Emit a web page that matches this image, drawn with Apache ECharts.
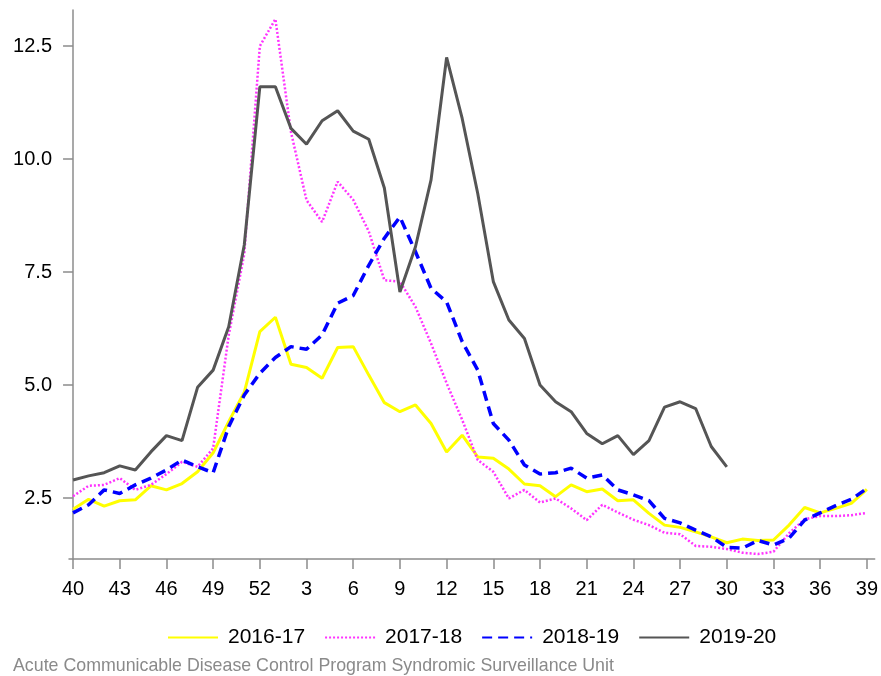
<!DOCTYPE html>
<html>
<head>
<meta charset="utf-8">
<script src="https://cdn.jsdelivr.net/npm/echarts@6/dist/echarts.min.js"></script>
<style>
  html, body { margin: 0; padding: 0; background: #fff; }
  #main { width: 881px; height: 676px; }
</style>
</head>
<body>
<div id="main"></div>
<script>
// weeks of the season, week 40 to week 39
var weeks = [40, 41, 42, 43, 44, 45, 46, 47, 48, 49, 50, 51, 52,
  1, 2, 3, 4, 5, 6, 7, 8, 9, 10, 11, 12, 13, 14, 15, 16, 17, 18, 19, 20,
  21, 22, 23, 24, 25, 26, 27, 28, 29, 30, 31, 32, 33, 34, 35, 36, 37, 38, 39]

var season1617 = [2.25, 2.47, 2.32, 2.44, 2.46, 2.77, 2.68, 2.82, 3.08, 3.50, 4.19, 4.84, 6.18,
  6.50, 5.46, 5.39, 5.15, 5.83, 5.85, 5.22, 4.61, 4.41, 4.56, 4.15, 3.52, 3.89, 3.41, 3.38, 3.14,
  2.81, 2.77, 2.53, 2.79, 2.64, 2.70, 2.44, 2.46, 2.16, 1.90, 1.85, 1.75, 1.64, 1.51, 1.59, 1.56,
  1.57, 1.90, 2.29, 2.17, 2.27, 2.38, 2.69]

var season1718 = [2.54, 2.77, 2.79, 2.94, 2.68, 2.79, 3.03, 3.30, 3.19, 3.60, 6.10, 7.90, 12.5,
  13.1, 10.6, 9.09, 8.61, 9.50, 9.10, 8.40, 7.32, 7.29, 6.73, 5.92, 5.04, 4.23, 3.34, 3.08, 2.49,
  2.68, 2.40, 2.49, 2.27, 2.01, 2.35, 2.18, 2.02, 1.90, 1.73, 1.70, 1.44, 1.42, 1.37, 1.29, 1.26,
  1.31, 1.72, 2.03, 2.10, 2.10, 2.12, 2.17]

var season1819 = [2.17, 2.35, 2.68, 2.60, 2.79, 2.94, 3.12, 3.34, 3.19, 3.06, 4.08, 4.78, 5.26,
  5.61, 5.85, 5.79, 6.11, 6.81, 6.98, 7.65, 8.25, 8.72, 7.95, 7.14, 6.84, 5.96, 5.33, 4.15, 3.78,
  3.23, 3.03, 3.06, 3.16, 2.94, 3.01, 2.68, 2.57, 2.44, 2.05, 1.95, 1.79, 1.64, 1.41, 1.39, 1.56,
  1.46, 1.61, 2.01, 2.17, 2.33, 2.47, 2.71]

var season1920 = [2.90, 2.99, 3.06, 3.21, 3.12, 3.52, 3.88, 3.77, 4.95, 5.33, 6.29, 8.10, 11.6,
  11.6, 10.68, 10.33, 10.85, 11.07, 10.62, 10.44, 9.36, 7.06, 8.06, 9.54, 12.25, 10.9, 9.24, 7.29, 6.44,
  6.03, 5.00, 4.63, 4.41, 3.93, 3.70, 3.88, 3.46, 3.77, 4.51, 4.63, 4.48, 3.64, 3.19,
  null, null, null, null, null, null, null, null, null]

var seasonNames = ['2016-17', '2017-18', '2018-19', '2019-20']
var xTicks = [0, 3, 6, 9, 12, 15, 18, 21, 24, 27, 30, 33, 36, 39, 42, 45, 48, 51]
var yTicks = [2.5, 5, 7.5, 10, 12.5]

function pairs(arr) {
  return arr.map(function (v, i) { return [i, v] })
}

var chart = echarts.init(document.getElementById('main'))
var axisColor = '#8c8c8c'
var option = {
  backgroundColor: '#fff',
  animation: false,
  textStyle: { fontFamily: 'Liberation Sans, Arial, sans-serif' },
  grid: { left: 69, right: 6, top: 10, bottom: 117 },
  legend: {
    data: seasonNames,
    top: 622,
    left: 162,
    itemWidth: 50,
    itemHeight: 14,
    itemGap: 19,
    // only the line sample, no marker in it
    itemStyle: { opacity: 0 },
    textStyle: { fontSize: 21, color: '#000', padding: [0, 0, 0, 5] }
  },
  xAxis: {
    type: 'value',
    min: -0.26,
    max: 51.5,
    splitLine: { show: false },
    axisLine: { lineStyle: { color: axisColor, width: 1.5 } },
    axisTick: { customValues: xTicks, length: 10, lineStyle: { color: axisColor, width: 1.5 } },
    axisLabel: {
      customValues: xTicks,
      margin: 20,
      fontSize: 20,
      color: '#000',
      formatter: function (v) { return weeks[Math.round(v)] }
    }
  },
  yAxis: {
    type: 'value',
    min: 1.15,
    max: 13.3,
    splitLine: { show: false },
    axisLine: { show: true, lineStyle: { color: axisColor, width: 1.5 } },
    axisTick: { show: true, customValues: yTicks, length: 10, lineStyle: { color: axisColor, width: 1.5 } },
    axisLabel: {
      customValues: yTicks,
      margin: 17,
      fontSize: 20,
      color: '#000',
      formatter: function (v) { return v.toFixed(1) }
    }
  },
  graphic: [{
    type: 'text',
    left: 13,
    top: 657,
    style: {
      text: 'Acute Communicable Disease Control Program Syndromic Surveillance Unit',
      fill: '#8a8a8a',
      fontSize: 17.8,
      fontFamily: 'Liberation Sans, Arial, sans-serif'
    }
  }],
  series: [
    {
      name: '2016-17',
      type: 'line',
      data: pairs(season1617),
      symbol: 'none',
      lineStyle: { color: '#ffff00', width: 3 },
      itemStyle: { color: '#ffff00' }
    },
    {
      name: '2017-18',
      type: 'line',
      data: pairs(season1718),
      symbol: 'none',
      lineStyle: { color: '#ff33ff', width: 2.5, type: [2, 2] },
      itemStyle: { color: '#ff33ff' }
    },
    {
      name: '2018-19',
      type: 'line',
      data: pairs(season1819),
      symbol: 'none',
      lineStyle: { color: '#0000ff', width: 3.5, type: [10, 6] },
      itemStyle: { color: '#0000ff' }
    },
    {
      name: '2019-20',
      type: 'line',
      data: pairs(season1920),
      symbol: 'none',
      lineStyle: { color: '#555555', width: 3 },
      itemStyle: { color: '#555555' }
    }
  ]
}
chart.setOption(option)
</script>
</body>
</html>
